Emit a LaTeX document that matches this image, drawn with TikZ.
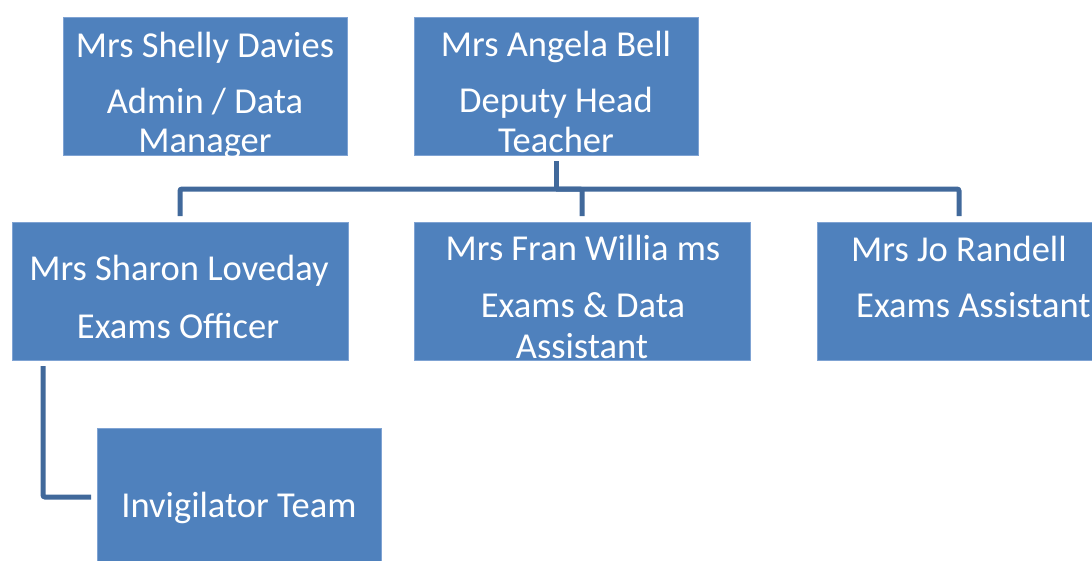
\documentclass[tikz,border=0pt]{standalone}
\usepackage{fontspec}
\setmainfont{Carlito}
\usepackage{tikz}

\definecolor{boxblue}{HTML}{4F81BD}
\definecolor{boxedge}{HTML}{7FA3D3}
\definecolor{linkblue}{HTML}{41699B}

\begin{document}
\begin{tikzpicture}[x=1pt,y=-1pt,
    box/.style={draw=boxedge, line width=1pt, fill=boxblue, minimum width=284pt, minimum height=138pt, outer sep=6pt, inner sep=0pt},
    wide/.style={box, minimum width=336pt},
    txt/.style={text=white, font=\fontsize{36.5}{42}\selectfont, inner sep=0pt, anchor=base},
    link/.style={draw=linkblue, line width=5pt, rounded corners=2pt}]
    \useasboundingbox (0,0) rectangle (1092,560);
    \clip (0,0) rectangle (1092,560);
    % boxes
    \node[box] (shelly) at (205,86) {};
    \node[box] (angela) at (556,86) {};
    \node[wide] (sharon) at (180,291) {};
    \node[wide] (fran) at (582,291) {};
    \node[box] (jo) at (959,291) {};
    \node[box] (invig) at (239,497) {};
    % texts
    \node[txt] (shellyname) at (205,57) {Mrs Shelly Davies};
    \node[txt] (shellyjob) at (205,113) {Admin / Data};
    \node[txt] (shellyjob2) at (205,152) {Manager};
    \node[txt] (angelaname) at (556,56) {Mrs Angela Bell};
    \node[txt] (angelajob) at (556,112) {Deputy Head};
    \node[txt] (angelajob2) at (556,152) {Teacher};
    \node[txt] (sharonname) at (179,280) {Mrs Sharon Loveday};
    \node[txt] (sharonjob) at (178,338) {Exams Officer};
    \node[txt] (franname) at (583,260) {Mrs Fran Willia ms};
    \node[txt] (franjob) at (583,317) {Exams \& Data};
    \node[txt] (franjob2) at (582,358) {Assistant};
    \node[txt, anchor=base west] (joname) at (851,261) {Mrs Jo Randell};
    \node[txt, anchor=base west] (jojob) at (856,317) {Exams Assistant};
    \node[txt] (invigname) at (239,517) {Invigilator Team};
    % connectors
    \coordinate (bus) at (556,189);
    \draw[link] (angela.south) -- (bus);
    \foreach \k in {sharon,fran,jo}
        \draw[link] (bus) -| (\k.north);
    \draw[link] (invig.west) -| ([xshift=37pt]sharon.south west);
\end{tikzpicture}
\end{document}
